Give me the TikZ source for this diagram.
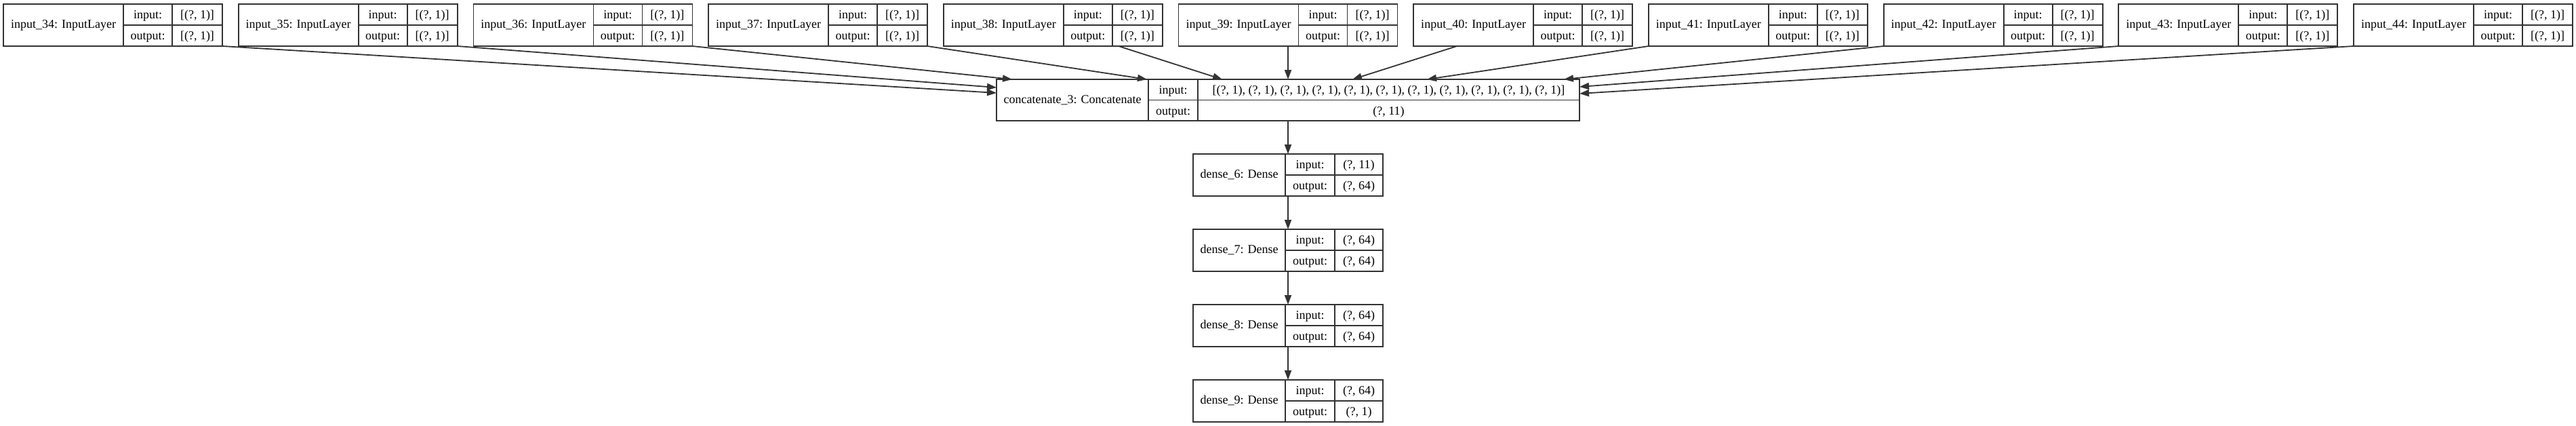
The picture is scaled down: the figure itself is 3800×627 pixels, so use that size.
\documentclass[tikz,border=0pt]{standalone}
\usepackage{fontspec}
\setmainfont{Liberation Serif}
\usepackage{tikz}
\usetikzlibrary{arrows.meta,positioning,calc}
\definecolor{edgegray}{RGB}{51,51,51}

\begin{document}
\begin{tikzpicture}[
    x=1pt, y=-1pt,
    layer/.style={rectangle, draw=edgegray, line width=1.8pt, inner sep=0pt, outer sep=0pt, minimum height=62pt},
    cell/.style={draw=edgegray, line width=1.8pt},
    lbl/.style={anchor=base, inner sep=0pt, font=\fontsize{18}{21}\selectfont},
    arrow/.style={-{Triangle[length=14pt, width=10pt]}, line width=1.8pt, draw=edgegray}
]
\useasboundingbox (0,0) rectangle (3800,627);

% input layers
\foreach \n [count=\i from 0] in {34,...,44} {
  \node[layer, minimum width=323pt, anchor=north west] (in\n) at ({5+346.7*\i}, 6) {};
  \draw[cell] ($(in\n.north west)+(177,0)$) -- ($(in\n.south west)+(177,0)$);
  \draw[cell] ($(in\n.north west)+(249,0)$) -- ($(in\n.south west)+(249,0)$);
  \draw[cell] ($(in\n.west)+(177,0)$) -- (in\n.east);
  \node[lbl] (in\n-name) at ($(in\n.north west)+(88.5,35.5)$) {input\_\n: InputLayer};
  \node[lbl] (in\n-in) at ($(in\n.north west)+(213,21.5)$) {input:};
  \node[lbl] (in\n-out) at ($(in\n.north west)+(213,52.5)$) {output:};
  \node[lbl] (in\n-vin) at ($(in\n.north east)+(-37,21.5)$) {[(?, 1)]};
  \node[lbl] (in\n-vout) at ($(in\n.north east)+(-37,52.5)$) {[(?, 1)]};
}

% concatenate
\node[layer, minimum width=860pt, minimum height=61pt, anchor=north west] (concat) at (1470,117) {};
\draw[cell] ($(concat.north west)+(224,0)$) -- ($(concat.south west)+(224,0)$);
\draw[cell] ($(concat.north west)+(297,0)$) -- ($(concat.south west)+(297,0)$);
\draw[cell] ($(concat.west)+(224,0)$) -- (concat.east);
\node[lbl] (concat-name) at ($(concat.north west)+(112,35)$) {concatenate\_3: Concatenate};
\node[lbl] (concat-in) at ($(concat.north west)+(260.5,21)$) {input:};
\node[lbl] (concat-out) at ($(concat.north west)+(260.5,52)$) {output:};
\node[lbl] (concat-vin) at ($(concat.north east)+(-281.5,21)$) {[(?, 1), (?, 1), (?, 1), (?, 1), (?, 1), (?, 1), (?, 1), (?, 1), (?, 1), (?, 1), (?, 1)]};
\node[lbl] (concat-vout) at ($(concat.north east)+(-281.5,52)$) {(?, 11)};

% dense layers
\foreach \n/\prev/\vin/\vout in {6/concat/11/64, 7/dense6/64/64, 8/dense7/64/64, 9/dense8/64/1} {
  \node[layer, minimum width=280pt, below=49pt of \prev] (dense\n) {};
  \draw[cell] ($(dense\n.north west)+(136,0)$) -- ($(dense\n.south west)+(136,0)$);
  \draw[cell] ($(dense\n.north west)+(209,0)$) -- ($(dense\n.south west)+(209,0)$);
  \draw[cell] ($(dense\n.west)+(136,0)$) -- (dense\n.east);
  \node[lbl] (dense\n-name) at ($(dense\n.north west)+(68,35.5)$) {dense\_\n: Dense};
  \node[lbl] (dense\n-in) at ($(dense\n.north west)+(172.5,21.5)$) {input:};
  \node[lbl] (dense\n-out) at ($(dense\n.north west)+(172.5,52.5)$) {output:};
  \node[lbl] (dense\n-vin) at ($(dense\n.north east)+(-35.5,21.5)$) {(?, \vin)};
  \node[lbl] (dense\n-vout) at ($(dense\n.north east)+(-35.5,52.5)$) {(?, \vout)};
  \draw[arrow] (\prev.south) -- (dense\n.north);
}

% inputs into concatenate
\draw[arrow] (in34.south east) -- ($(concat.north west)+(0,20)$);
\draw[arrow] (in35.south east) -- ($(concat.north west)+(0,12)$);
\draw[arrow] (in36.south east) -- ($(concat.north west)+(23,0)$);
\draw[arrow] (in37.south east) -- ($(concat.north west)+(222,0)$);
\draw[arrow] (in38) -- ($(concat.north west)+(333,0)$);
\draw[arrow] (in39.south) -- (concat.north);
\draw[arrow] (in40) -- ($(concat.north west)+(525,0)$);
\draw[arrow] (in41.south west) -- ($(concat.north west)+(635,0)$);
\draw[arrow] (in42.south west) -- ($(concat.north west)+(837,0)$);
\draw[arrow] (in43.south west) -- ($(concat.north east)+(0,11)$);
\draw[arrow] (in44.south west) -- ($(concat.north east)+(0,21)$);

\end{tikzpicture}
\end{document}
